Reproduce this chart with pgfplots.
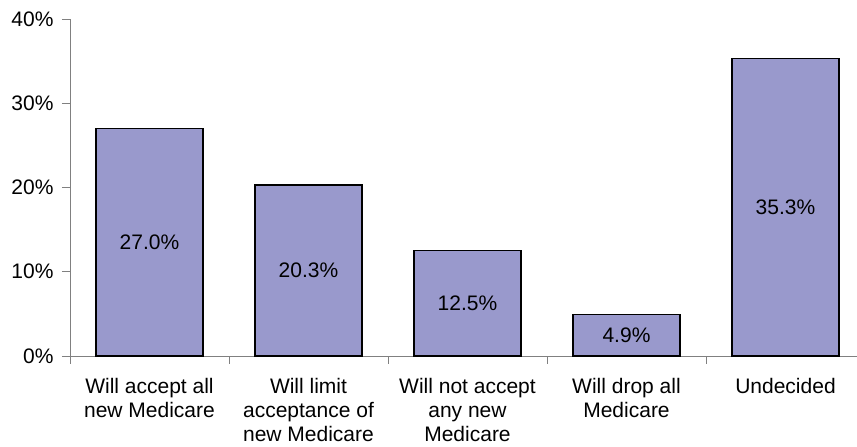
\documentclass[border=0pt]{standalone}
\usepackage{pgfplots}
\pgfplotsset{compat=1.18}
\usepackage{fontspec}
\setmainfont{Liberation Sans}
\definecolor{barfill}{HTML}{9999CC}
\definecolor{axgray}{HTML}{808080}
\begin{document}
\begin{tikzpicture}
\useasboundingbox (0,0) rectangle (857pt,447pt);
\begin{axis}[
  at={(70pt,91pt)}, anchor=south west,
  scale only axis, width=795pt, height=337pt,
  xmin=-0.5, xmax=4.5, ymin=0, ymax=40,
  axis lines=left, axis line style={-, axgray, line width=0.8pt},
  ytick={0,10,20,30,40},
  yticklabel={\pgfmathprintnumber{\tick}\%},
  /pgf/number format/assume math mode=true,
  tick style={axgray, line width=0.8pt},
  tick align=outside, major tick length=8pt,
  xtick={0,1,2,3,4},
  x tick style={draw=none},
  xticklabels={Will accept all\\new Medicare, Will limit\\acceptance of\\new Medicare, Will not accept\\any new\\Medicare, Will drop all\\Medicare, Undecided},
  x tick label style={align=center, font=\fontsize{21}{24}\selectfont, anchor=north, yshift=-11pt},
  y tick label style={font=\fontsize{21}{24}\selectfont, xshift=-5pt},
  extra x ticks={-0.5,0.5,1.5,2.5,3.5},
  extra x tick labels={},
  extra x tick style={x tick style={draw=axgray, line width=0.8pt}, major tick length=8pt},
  ybar, bar width=107pt,
  nodes near coords={\pgfmathprintnumber[fixed,fixed zerofill,precision=1]{\pgfplotspointmeta}\%},
  visualization depends on={rawy \as \rawy},
  every node near coord/.append style={anchor=center, font=\fontsize{21}{24}\selectfont, shift={(axis direction cs:0,-\rawy/2)}},
  clip=false,
]
\addplot[fill=barfill, draw=black, line width=1.3pt] coordinates {(0,27.0) (1,20.3) (2,12.5) (3,4.9) (4,35.3)};
\end{axis}
\end{tikzpicture}
\end{document}
